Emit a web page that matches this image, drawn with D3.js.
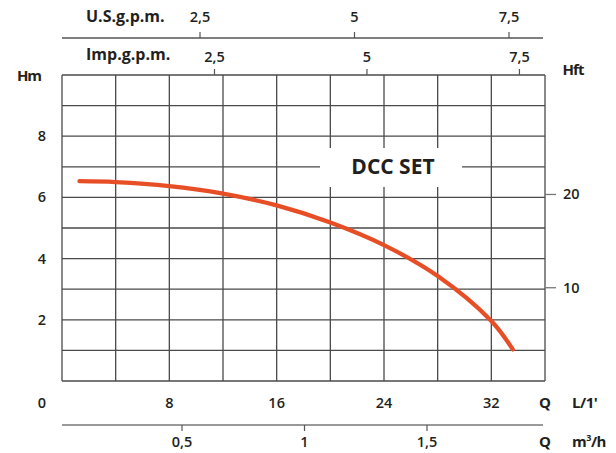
<!DOCTYPE html>
<html><head><meta charset="utf-8">
<script src="https://cdn.jsdelivr.net/npm/d3@7/dist/d3.min.js"></script>
<style>
html,body{margin:0;padding:0;background:#fff;}
svg{display:block;font-family:"Open Sans",sans-serif;}
</style></head>
<body><svg id="c" width="616" height="453"></svg>
<script>
// ---- data ----
const flowLpm = [1.3, 4, 8, 11.8, 16, 20, 24, 28, 32, 33.6];
const headM   = [6.53, 6.5, 6.37, 6.14, 5.74, 5.18, 4.44, 3.43, 1.96, 1.03];
const lpmTicks = [8, 16, 24, 32];
const headTicks = [2, 4, 6, 8];
const ftTicks = [10, 20];
const usTicks = [2.5, 5, 7.5];
const impTicks = [2.5, 5, 7.5];
const m3hTicks = [0.5, 1, 1.5];
const seriesName = "DCC SET";

const fmt = v => String(v).replace(".", ",");
const svg = d3.select("#c");
const ink = "#231f20";

const x = d3.scaleLinear([0, 36], [62, 545]);
const y = d3.scaleLinear([0, 10], [381, 75]);
const yFt = d3.scaleLinear([0, 10 / 0.3048], [381, 75]);
const xImp = d3.scaleLinear([0, 36 / 4.546], [62, 545]);
const xUS = d3.scaleLinear([2.5, 7.5], [200, 509]);
const xM3 = d3.scaleLinear([0.5, 1.5], [182, 427]);

// grid
const g = svg.append("g").attr("stroke", "#4a4a4a").attr("stroke-width", 1.3);
d3.range(0, 37, 4).forEach(v => g.append("line")
  .attr("x1", x(v)).attr("x2", x(v)).attr("y1", y(0)).attr("y2", y(10)));
d3.range(0, 11, 1).forEach(v => g.append("line")
  .attr("x1", x(0)).attr("x2", x(36)).attr("y1", y(v)).attr("y2", y(v)));

// label box
svg.append("rect").attr("x", 320).attr("y", 148).attr("width", 142).attr("height", 39).attr("fill", "#fff");
svg.append("text").attr("x", 393).attr("y", 174).attr("text-anchor", "middle")
  .attr("font-size", 21).attr("font-weight", 700).attr("fill", ink).text(seriesName);

// curve
svg.append("path")
  .datum(flowLpm.map((q, i) => [q, headM[i]]))
  .attr("fill", "none").attr("stroke", "#e84e26").attr("stroke-width", 4.2)
  .attr("stroke-linecap", "round")
  .attr("d", d3.line().x(d => x(d[0])).y(d => y(d[1])).curve(d3.curveCatmullRom));

// left axis labels
svg.append("g").selectAll("text").data(headTicks).join("text")
  .attr("x", 42).attr("y", d => y(d) + 5).attr("text-anchor", "middle")
  .attr("font-size", 14.5).attr("font-weight", 600).attr("fill", ink).text(d => d);
svg.append("text").attr("x", 29).attr("y", 81).attr("text-anchor", "middle")
  .attr("font-size", 15).attr("font-weight", 700).attr("letter-spacing", -1).attr("fill", ink).text("Hm");

// right ft axis
const r = svg.append("g");
r.selectAll("line").data(ftTicks).join("line")
  .attr("x1", 545).attr("x2", 556).attr("y1", d => yFt(d)).attr("y2", d => yFt(d))
  .attr("stroke", "#777").attr("stroke-width", 1.3);
r.selectAll("text").data(ftTicks).join("text")
  .attr("x", 563).attr("y", d => yFt(d) + 5).attr("font-size", 14.5).attr("font-weight", 600)
  .attr("fill", ink).text(d => d);
svg.append("text").attr("x", 573).attr("y", 75).attr("text-anchor", "middle")
  .attr("font-size", 15).attr("font-weight", 700).attr("letter-spacing", -1).attr("fill", ink).text("Hft");

// bottom L/min labels
svg.append("g").selectAll("text").data(lpmTicks).join("text")
  .attr("x", d => x(d)).attr("y", 408).attr("text-anchor", "middle")
  .attr("font-size", 14.5).attr("font-weight", 600).attr("fill", ink).text(d => d);
svg.append("text").attr("x", 42).attr("y", 408).attr("text-anchor", "middle")
  .attr("font-size", 14.5).attr("font-weight", 600).attr("fill", ink).text("0");
svg.append("text").attr("x", 545).attr("y", 408).attr("text-anchor", "middle")
  .attr("font-size", 15).attr("font-weight", 700).attr("fill", ink).text("Q");
svg.append("text").attr("x", 572).attr("y", 408)
  .attr("font-size", 15).attr("font-weight", 700).attr("letter-spacing", -0.5).attr("fill", ink).text("L/1'");

// bottom m3/h axis
const b = svg.append("g");
b.append("line").attr("x1", 62).attr("x2", 543).attr("y1", 425).attr("y2", 425)
  .attr("stroke", "#777").attr("stroke-width", 1.3);
b.selectAll("line.t").data(m3hTicks).join("line").attr("class", "t")
  .attr("x1", d => xM3(d)).attr("x2", d => xM3(d)).attr("y1", 425).attr("y2", 431)
  .attr("stroke", "#555").attr("stroke-width", 1.2);
b.selectAll("text").data(m3hTicks).join("text")
  .attr("x", d => xM3(d)).attr("y", 447).attr("text-anchor", "middle")
  .attr("font-size", 14.5).attr("font-weight", 600).attr("fill", ink).text(fmt);
svg.append("text").attr("x", 545).attr("y", 447).attr("text-anchor", "middle")
  .attr("font-size", 15).attr("font-weight", 700).attr("fill", ink).text("Q");
const m3 = svg.append("text").attr("x", 572).attr("y", 447)
  .attr("font-size", 15).attr("font-weight", 700).attr("letter-spacing", -0.5).attr("fill", ink);
m3.append("tspan").text("m");
m3.append("tspan").attr("dy", -6).attr("font-size", 9).text("3");
m3.append("tspan").attr("dy", 6).text("/h");

// top US gpm axis
const t = svg.append("g");
t.append("line").attr("x1", 62).attr("x2", 543).attr("y1", 38).attr("y2", 38)
  .attr("stroke", "#555").attr("stroke-width", 1.3);
t.selectAll("line.t").data(usTicks).join("line").attr("class", "t")
  .attr("x1", d => xUS(d)).attr("x2", d => xUS(d)).attr("y1", 32).attr("y2", 38)
  .attr("stroke", "#555").attr("stroke-width", 1.2);
t.selectAll("text").data(usTicks).join("text")
  .attr("x", d => xUS(d)).attr("y", 22).attr("text-anchor", "middle")
  .attr("font-size", 14.5).attr("font-weight", 600).attr("fill", ink).text(fmt);
svg.append("text").attr("x", 86).attr("y", 22)
  .attr("font-size", 16).attr("font-weight", 700).attr("fill", ink).text("U.S.g.p.m.");

// top Imp gpm axis (on plot border)
const im = svg.append("g");
im.selectAll("line").data(impTicks).join("line")
  .attr("x1", d => xImp(d)).attr("x2", d => xImp(d)).attr("y1", 69).attr("y2", 75)
  .attr("stroke", "#555").attr("stroke-width", 1.2);
im.selectAll("text").data(impTicks).join("text")
  .attr("x", d => xImp(d)).attr("y", 62).attr("text-anchor", "middle")
  .attr("font-size", 14.5).attr("font-weight", 600).attr("fill", ink).text(fmt);
svg.append("text").attr("x", 86).attr("y", 60)
  .attr("font-size", 16).attr("font-weight", 700).attr("fill", ink).text("Imp.g.p.m.");
</script></body></html>
